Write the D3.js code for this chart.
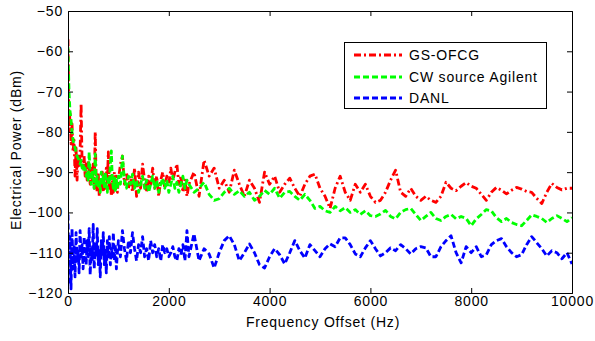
<!DOCTYPE html>
<html>
<head>
<meta charset="utf-8">
<script src="https://cdn.jsdelivr.net/npm/d3@7"></script>
<style>
html,body{margin:0;padding:0;background:#fff;}
svg{display:block;font-family:"Liberation Sans",Arial,sans-serif;}
</style>
</head>
<body>
<svg id="chart" width="595" height="341"></svg>
<script>
// Frequency grid (Hz): dense at low offsets, sparser beyond
const freqDense = d3.range(0, 1000, 20);
const freqMid = d3.range(1000, 2400, 40);
const freqSparse = d3.range(2400, 10001, 100);
const freqs = freqDense.concat(freqMid, freqSparse);

const seriesNames = ["GS-OFCG", "CW source Agilent", "DANL"];

const gsofcg = [
  // 0..980 step 20
  -57,-80,-75,-83,-78,-85,-82,-91,-84,-92,-86,-89,-85,-73,-88,-89,-86,-91,-88,-92,
  -87,-90,-93,-89,-92,-88,-94,-80,-93,-95,-90,-96,-92,-94,-90,-95,-91,-94,-89,-93,
  -85,-94,-91,-96,-92,-95,-90,-94,-91,-95,
  // 1000..2360 step 40
  -92,-88,-86,-93,-90,-94,-91,-95,-89,-96,-90,-94,-88,-92,-95,-91,-93,-89,-94,-91,
  -96,-92,-90,-94,-91,-93,-89,-92,-90,-88,-93,-91,-95,-92,-96,
  // 2400..10000 step 100
  -93,-90,-96,-87,-91,-89,-94,-92,-95,-89.5,-93,-96,-92,-94,-97.5,-90,-93,-91,-95,-93,
  -91.5,-94,-96,-93,-91,-90.5,-94,-96,-99,-94,-91,-95,-97,-93,-95,-93,-96,-97.5,-97,-95,
  -92,-89.5,-95,-96,-94,-96,-97,-96,-97,-97.5,-96,-92.5,-94,-94.6,-93.5,-92.6,-93.5,-94,-95.5,-97,
  -95,-93.8,-94.5,-95.4,-94.5,-93.8,-94.2,-94.8,-95,-96.5,-97.8,-95,-92.8,-93.8,-94.4,-94,-94
];

const cwAgilent = [
  // 0..980 step 20
  -59,-70,-75,-77,-80,-82,-83,-84,-85,-86,-86.5,-87,-88,-87,-89,-88,-90,-89,-91,-90,
  -92,-85,-91,-93,-90,-92,-94,-85.5,-93,-91,-94,-92,-95,-90,-93,-91,-94,-90,-93,-95,
  -91,-93,-88,-84.7,-92,-94,-91,-95,-92,-94,
  // 1000..2360 step 40
  -91,-93,-86,-92,-94,-91,-93,-90.5,-94,-92,-95,-93,-91,-94,-92,-95,-93,-91,-94,-92,
  -95,-93,-91.5,-94,-92,-95,-93,-91,-94,-92.5,-95,-93,-91,-94,-92,
  // 2400..10000 step 100
  -93,-95,-94,-92.5,-95.5,-97,-96.6,-95,-94,-95.5,-94.6,-96,-95,-97,-96,-94.5,-95.5,-94,-96.5,-95,
  -94.8,-96,-97,-95.5,-97,-99,-98.5,-99.6,-100,-98.5,-99.6,-98.8,-100,-99.3,-100.5,-99.6,-100.8,-101,-100.4,-99.5,
  -101,-101.6,-100,-99.3,-99,-100.5,-102,-101,-100,-101.5,-102,-101,-100.5,-101.6,-101,-101.5,-103.3,-101.6,-100.5,-99.3,
  -99.6,-101.3,-102.3,-101.5,-102.5,-103,-103.3,-102,-100.6,-101,-101.5,-102.5,-101.5,-100.8,-101.5,-102.3,-101.3
];

const danl = [
  // 0..980 step 20
  -100.5,-118,-106,-119,-104,-114,-108,-116,-105,-112,-109,-115,-104.5,-111,-108,-114,-106,-110,-113,-107,
  -111,-104,-115.5,-109,-112,-103,-114,-108,-111,-104,-113,-109,-116,-107,-111,-105,-113,-109,-115,-107,
  -111,-106,-113,-109,-111,-105,-112,-108,-114,-110,
  // 1000..2360 step 40
  -107,-111,-104.5,-109,-112,-107,-110,-105,-109,-112,-108,-110,-106,-111,-109,-112,-107,-110,-108,-111,
  -109,-112,-108,-110,-109,-111,-110,-108.5,-111,-112,-109,-110.5,-108,-112,-104.5,
  // 2400..10000 step 100
  -111,-105.3,-112,-109,-110.3,-113.8,-110,-107,-105.8,-108,-112,-110,-107.8,-110,-113,-113.8,-111,-109,-110.5,-112.8,
  -110,-107,-109.5,-111.3,-108,-109.5,-111,-109,-107.8,-108.5,-106.3,-106.3,-108,-110.3,-111,-108.8,-107,-109,-110.8,-110,
  -108.8,-109.5,-108,-109,-110.3,-109,-108.5,-108.8,-111,-111,-108.5,-107,-105.8,-110,-112.5,-108.5,-110,-108.5,-111,-110.5,
  -108,-107,-106.5,-108.5,-110,-111,-110.5,-108,-106,-107.5,-109,-110.8,-109.5,-110,-111.5,-110,-112.8
];

const xTicks = [0, 2000, 4000, 6000, 8000, 10000];
const yTicks = [-50, -60, -70, -80, -90, -100, -110, -120];

const colors = ["#ff0000", "#00ff00", "#0000ff"];
const dashes = ["7,3,2,3", "6,3", "6,3"];

const svg = d3.select("#chart");
const L = 68, R = 572, T = 11, B = 293;

const x = d3.scaleLinear().domain([0, 10000]).range([L, R]);
const y = d3.scaleLinear().domain([-120, -50]).range([B, T]);

svg.append("defs").append("clipPath").attr("id", "clip")
  .append("rect").attr("x", L).attr("y", T).attr("width", R - L).attr("height", B - T);

const line = d3.line().x((d, i) => x(freqs[i])).y(d => y(d));

const allSeries = [gsofcg, cwAgilent, danl];
const g = svg.append("g").attr("clip-path", "url(#clip)");
allSeries.forEach((s, k) => {
  g.append("path").datum(s)
    .attr("d", line)
    .attr("fill", "none")
    .attr("stroke", colors[k])
    .attr("stroke-width", 2.8)
    .attr("stroke-dasharray", dashes[k])
    .attr("stroke-linejoin", "round");
});

// Axes with inward ticks on all four sides
const tickLen = 5;
const fs = 14;
const ls = "0.8px";
const axB = svg.append("g").attr("transform", `translate(0,${B})`)
  .call(d3.axisBottom(x).tickValues(xTicks).tickSize(-tickLen).tickPadding(3).tickFormat(d3.format("d")));
const axT = svg.append("g").attr("transform", `translate(0,${T})`)
  .call(d3.axisTop(x).tickValues(xTicks).tickSize(-tickLen).tickFormat(""));
const axL = svg.append("g").attr("transform", `translate(${L},0)`)
  .call(d3.axisLeft(y).tickValues(yTicks).tickSize(-tickLen).tickPadding(5).tickFormat(d3.format("d")));
const axR = svg.append("g").attr("transform", `translate(${R},0)`)
  .call(d3.axisRight(y).tickValues(yTicks).tickSize(-tickLen).tickFormat(""));
[axB, axT, axL, axR].forEach(a => {
  a.selectAll("path").attr("stroke", "#000").attr("stroke-width", 1);
  a.selectAll("line").attr("stroke", "#000");
  a.selectAll("text").attr("fill", "#000").style("font-size", fs + "px")
    .style("letter-spacing", ls)
    .style("font-family", "'Liberation Sans', Arial, sans-serif");
});
// remove edge ticks overlapping frame
axT.selectAll(".tick line").filter(d => d === 0 || d === 10000).remove();
axB.selectAll(".tick line").filter(d => d === 0 || d === 10000).remove();
axL.selectAll(".tick line").filter(d => d === -50 || d === -120).remove();
axR.selectAll(".tick line").filter(d => d === -50 || d === -120).remove();

// Axis labels
svg.append("text").attr("x", (L + R) / 2 + 3).attr("y", 327)
  .attr("text-anchor", "middle").style("font-size", fs + "px").style("letter-spacing", ls)
  .text("Frequency Offset (Hz)");
svg.append("text").attr("transform", `translate(21,${(T + B) / 2 - 2}) rotate(-90)`)
  .attr("text-anchor", "middle").style("font-size", fs + "px").style("letter-spacing", ls)
  .text("Electrical Power (dBm)");

// Legend
const lg = svg.append("g");
lg.append("rect").attr("x", 344.5).attr("y", 42.5).attr("width", 202).attr("height", 66)
  .attr("fill", "#fff").attr("stroke", "#000").attr("stroke-width", 1);
const rowsY = [55, 77, 98];
seriesNames.forEach((n, k) => {
  lg.append("line").attr("x1", 354).attr("x2", 402).attr("y1", rowsY[k]).attr("y2", rowsY[k])
    .attr("stroke", colors[k]).attr("stroke-width", 2.8).attr("stroke-dasharray", dashes[k]);
  lg.append("text").attr("x", 409).attr("y", rowsY[k] + 5)
    .style("font-size", fs + "px").style("letter-spacing", ls).text(n);
});
</script>
</body>
</html>
